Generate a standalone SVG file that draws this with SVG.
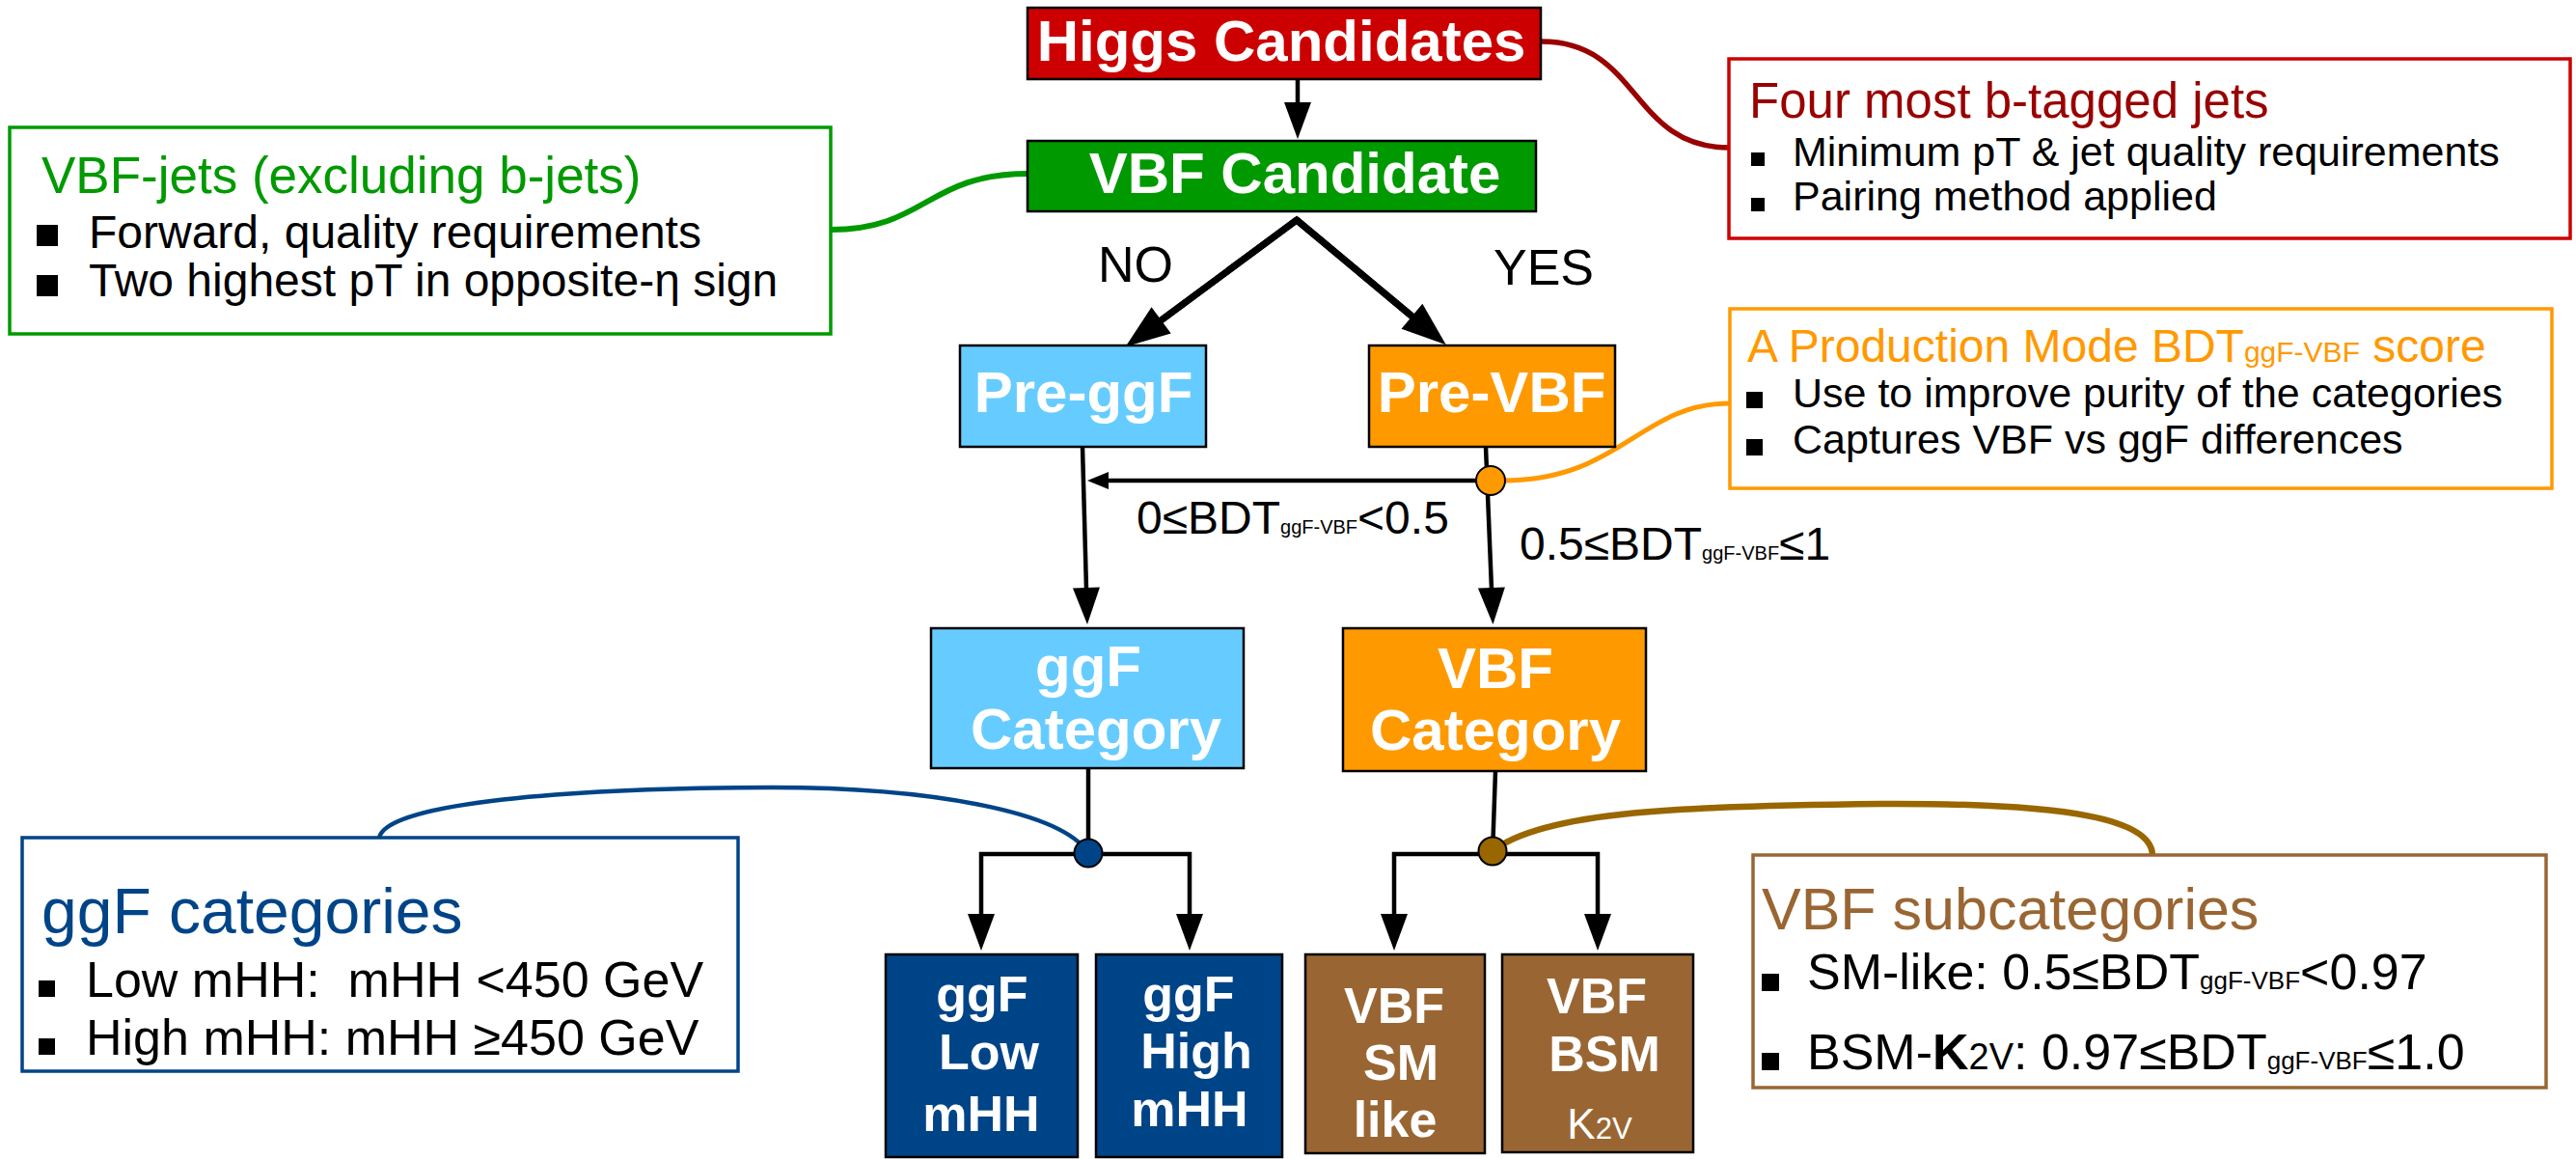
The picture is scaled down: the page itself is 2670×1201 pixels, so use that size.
<svg xmlns="http://www.w3.org/2000/svg" width="2670" height="1201" viewBox="0 0 2670 1201">
<defs>
<style>
text{font-family:"Liberation Sans",Arial,Helvetica,sans-serif}
.bw{font-weight:bold;fill:#fff}
.b60{font-size:60px}
.b52{font-size:52px}
.blk{fill:#000}
.node{stroke:#000;stroke-width:2.5}
.ln{fill:none;stroke:#000;stroke-width:4.5}
.thick{fill:none;stroke:#000;stroke-width:7}
.info{fill:#fff;stroke-width:3.5}
.sq{fill:#000}
</style>
<marker id="arrL" markerUnits="userSpaceOnUse" orient="auto" refX="2" refY="0" markerWidth="1" markerHeight="1" overflow="visible"><path d="M0,-17 L46,0 L0,17 z" fill="#000"/></marker>
<marker id="arrM" markerUnits="userSpaceOnUse" orient="auto" refX="2" refY="0" markerWidth="1" markerHeight="1" overflow="visible"><path d="M0,-14 L38,0 L0,14 z" fill="#000"/></marker>
<marker id="arrS" markerUnits="userSpaceOnUse" orient="auto" refX="2" refY="0" markerWidth="1" markerHeight="1" overflow="visible"><path d="M0,-9 L22,0 L0,9 z" fill="#000"/></marker>
</defs>
<rect width="2670" height="1201" fill="#fff"/>

<g id="connectors">
<path d="M861,238 C960,238 960,180 1066,180" fill="none" stroke="#009900" stroke-width="6"/>
<path d="M1598,43 C1700,43 1690,153 1792,153" fill="none" stroke="#990000" stroke-width="5.5"/>
<path d="M1558,498 C1680,498 1700,418 1793,418" fill="none" stroke="#FF9900" stroke-width="5"/>
<path d="M393,868 C400,835 560,817 800,816 C960,816 1100,840 1128,884" fill="none" stroke="#004488" stroke-width="4.5"/>
<path d="M1547,882 C1600,840 1750,835 1950,833 C2150,832 2230,850 2231,886" fill="none" stroke="#996600" stroke-width="6.5"/>
<path class="ln" d="M1345,82 V108" marker-end="url(#arrM)"/>
<path class="thick" d="M1202,333 L1344,228 L1465,329" stroke-linejoin="miter"/>
<path class="thick" d="M1344,228 L1202,333" marker-end="url(#arrL)"/>
<path class="thick" d="M1344,228 L1465,329" marker-end="url(#arrL)"/>
<path class="ln" d="M1122,463 L1126,611" marker-end="url(#arrM)"/>
<path class="ln" d="M1540,463 L1546,611" marker-end="url(#arrM)"/>
<path class="ln" d="M1532,498 H1147" marker-end="url(#arrS)"/>
<path class="ln" d="M1128,796 V885"/>
<path class="ln" d="M1550,799 L1547,885"/>
<path class="ln" d="M1128,885 H1017 V949" marker-end="url(#arrM)"/>
<path class="ln" d="M1128,885 H1233 V949" marker-end="url(#arrM)"/>
<path class="ln" d="M1547,885 H1445 V949" marker-end="url(#arrM)"/>
<path class="ln" d="M1547,885 H1656 V949" marker-end="url(#arrM)"/>
<circle cx="1545" cy="498" r="15" fill="#FF9900" stroke="#000" stroke-width="2"/>
<circle cx="1128" cy="884" r="14.5" fill="#004488" stroke="#000" stroke-width="2"/>
<circle cx="1547" cy="882" r="14.5" fill="#996600" stroke="#000" stroke-width="2"/>
<text x="1138" y="292" font-size="52" class="blk">NO</text>
<text x="1548" y="295" font-size="52" class="blk">YES</text>
<text x="1178" y="553" font-size="48" class="blk">0≤BDT<tspan font-size="20">ggF-VBF</tspan>&lt;0.5</text>
<text x="1575" y="580" font-size="48" class="blk">0.5≤BDT<tspan font-size="20">ggF-VBF</tspan>≤1</text>
</g>

<g id="higgs-candidates">
<rect class="node" x="1065" y="8" width="532" height="74" fill="#CC0000"/>
<text class="bw b60" x="1328" y="63" text-anchor="middle">Higgs Candidates</text>
</g>
<g id="vbf-candidate">
<rect class="node" x="1065" y="146" width="527" height="73" fill="#009900"/>
<text class="bw b60" x="1342" y="200" text-anchor="middle">VBF Candidate</text>
</g>
<g id="pre-ggf">
<rect class="node" x="995" y="358" width="255" height="105" fill="#66CCFF"/>
<text class="bw b60" x="1123" y="427" text-anchor="middle">Pre-ggF</text>
</g>
<g id="pre-vbf">
<rect class="node" x="1419" y="358" width="255" height="105" fill="#FF9900"/>
<text class="bw b60" x="1546" y="427" text-anchor="middle">Pre-VBF</text>
</g>
<g id="ggf-category">
<rect class="node" x="965" y="651" width="324" height="145" fill="#66CCFF"/>
<text class="bw b60" x="1128" y="711" text-anchor="middle">ggF</text>
<text class="bw b60" x="1136" y="776" text-anchor="middle">Category</text>
</g>
<g id="vbf-category">
<rect class="node" x="1392" y="651" width="314" height="148" fill="#FF9900"/>
<text class="bw b60" x="1550" y="713" text-anchor="middle">VBF</text>
<text class="bw b60" x="1550" y="777" text-anchor="middle">Category</text>
</g>
<g id="ggf-low">
<rect class="node" x="918" y="989" width="199" height="210" fill="#004488"/>
<text class="bw b52" x="1018" y="1048" text-anchor="middle">ggF</text>
<text class="bw b52" x="1025" y="1108" text-anchor="middle">Low</text>
<text class="bw b52" x="1017" y="1172" text-anchor="middle">mHH</text>
</g>
<g id="ggf-high">
<rect class="node" x="1136" y="989" width="193" height="210" fill="#004488"/>
<text class="bw b52" x="1232" y="1048" text-anchor="middle">ggF</text>
<text class="bw b52" x="1240" y="1107" text-anchor="middle">High</text>
<text class="bw b52" x="1233" y="1167" text-anchor="middle">mHH</text>
</g>
<g id="vbf-sm-like">
<rect class="node" x="1353" y="989" width="186" height="206" fill="#996633"/>
<text class="bw b52" x="1445" y="1060" text-anchor="middle">VBF</text>
<text class="bw b52" x="1452" y="1119" text-anchor="middle">SM</text>
<text class="bw b52" x="1446" y="1178" text-anchor="middle">like</text>
</g>
<g id="vbf-bsm">
<rect class="node" x="1557" y="989" width="198" height="205" fill="#996633"/>
<text class="bw b52" x="1655" y="1050" text-anchor="middle">VBF</text>
<text class="bw b52" x="1663" y="1110" text-anchor="middle">BSM</text>
<text x="1658" y="1180" text-anchor="middle" font-size="44" fill="#fff">K<tspan font-size="31">2V</tspan></text>
</g>

<g id="info-vbf-jets">
<rect class="info" x="10" y="132" width="851" height="214" stroke="#009900"/>
<text x="43" y="200" font-size="53" fill="#009900">VBF-jets (excluding b-jets)</text>
<rect class="sq" x="38" y="233" width="22" height="22"/>
<text x="92" y="257" font-size="48">Forward, quality requirements</text>
<rect class="sq" x="38" y="285" width="22" height="22"/>
<text x="92" y="307" font-size="48">Two highest pT in opposite-η sign</text>
</g>
<g id="info-four-b-jets">
<rect class="info" x="1792" y="61" width="872" height="186" stroke="#CC0000"/>
<text x="1813" y="122" font-size="51" fill="#990000">Four most b-tagged jets</text>
<rect class="sq" x="1815" y="158" width="14" height="14"/>
<text x="1858" y="172" font-size="43">Minimum pT &amp; jet quality requirements</text>
<rect class="sq" x="1815" y="205" width="14" height="14"/>
<text x="1858" y="218" font-size="43">Pairing method applied</text>
</g>
<g id="info-bdt">
<rect class="info" x="1793" y="320" width="852" height="186" stroke="#FF9900"/>
<text x="1811" y="375" font-size="48" fill="#FF9900">A Production Mode BDT<tspan font-size="30">ggF-VBF</tspan> score</text>
<rect class="sq" x="1810" y="406" width="17" height="17"/>
<text x="1858" y="422" font-size="43">Use to improve purity of the categories</text>
<rect class="sq" x="1810" y="455" width="17" height="17"/>
<text x="1858" y="470" font-size="43">Captures VBF vs ggF differences</text>
</g>
<g id="info-ggf-categories">
<rect class="info" x="23" y="868" width="742" height="242" stroke="#004488"/>
<text x="43" y="967" font-size="66" fill="#004488">ggF categories</text>
<rect class="sq" x="40" y="1016" width="17" height="17"/>
<text x="89" y="1033" font-size="52" xml:space="preserve">Low mHH:  mHH &lt;450 GeV</text>
<rect class="sq" x="40" y="1076" width="17" height="17"/>
<text x="89" y="1093" font-size="52">High mHH: mHH ≥450 GeV</text>
</g>
<g id="info-vbf-subcategories">
<rect class="info" x="1817" y="886" width="822" height="241" stroke="#996633"/>
<text x="1826" y="963" font-size="61" fill="#996633">VBF subcategories</text>
<rect class="sq" x="1826" y="1009" width="18" height="18"/>
<text x="1873" y="1025" font-size="52">SM-like: 0.5≤BDT<tspan font-size="26">ggF-VBF</tspan>&lt;0.97</text>
<rect class="sq" x="1826" y="1091" width="18" height="18"/>
<text x="1873" y="1108" font-size="52">BSM-<tspan font-weight="bold">K</tspan><tspan font-size="38">2V</tspan>: 0.97≤BDT<tspan font-size="26">ggF-VBF</tspan>≤1.0</text>
</g>
</svg>
